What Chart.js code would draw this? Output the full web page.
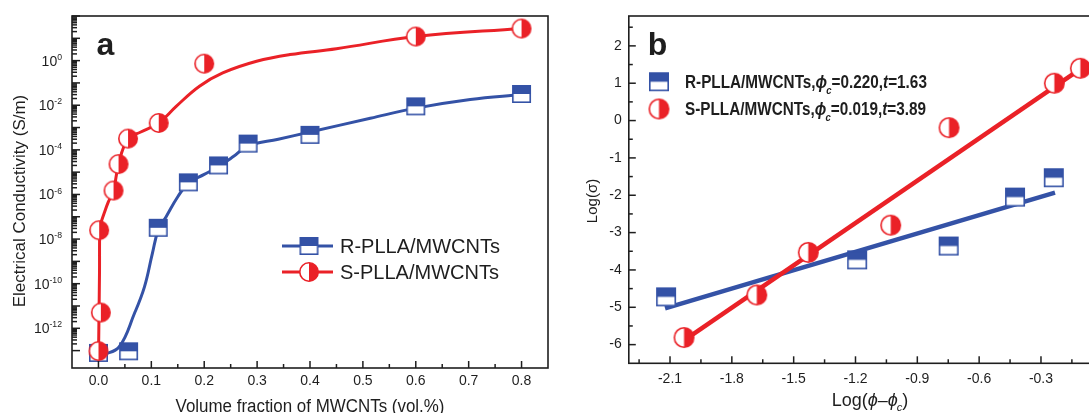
<!DOCTYPE html>
<html><head><meta charset="utf-8">
<script src="https://cdn.jsdelivr.net/npm/chart.js@4/dist/chart.umd.min.js"></script>
<style>
html,body{margin:0;padding:0;background:#fff;overflow:hidden;width:1089px;height:413px;}
#wrapA{position:absolute;left:0;top:0;width:560px;height:413px;}
#wrapB{position:absolute;left:560px;top:0;width:560px;height:413px;}
canvas{display:block;}
</style></head><body>
<div id="wrapA"><canvas id="chartA" width="560" height="413"></canvas></div>
<div id="wrapB"><canvas id="chartB" width="560" height="413"></canvas></div>
<script>
// ---------------- Panel (a) data ----------------
const volR = [0.0, 0.057, 0.113, 0.17, 0.227, 0.283, 0.4, 0.6, 0.8];
const sigR = [7.9e-14, 9.3e-14, 3.2e-8, 3.5e-6, 2.0e-5, 1.9e-4, 4.7e-4, 8.9e-3, 3.2e-2];
const volS = [0.0, 0.0045, 0.0013, 0.0285, 0.038, 0.056, 0.114, 0.2, 0.6, 0.8];
const sigS = [9.5e-14, 5.1e-12, 2.5e-8, 1.5e-6, 2.3e-5, 3.2e-4, 1.6e-3, 0.73, 12, 27.5];
const fitVolR = [0.008, 0.039, 0.068, 0.087, 0.102, 0.113, 0.128, 0.150, 0.170, 0.200, 0.227, 0.255, 0.283, 0.340, 0.400, 0.514, 0.600, 0.703, 0.800];
const fitSigR = [6.3e-14, 1.45e-13, 4.6e-12, 7.2e-11, 2.3e-9, 2.5e-8, 1.0e-7, 7.9e-7, 3.2e-6, 7.9e-6, 1.8e-5, 5.0e-5, 1.5e-4, 3.0e-4, 6.3e-4, 2.6e-3, 7.4e-3, 1.8e-2, 3.0e-2];
const fitVolS = [0.0, 0.001, 0.002, 0.0025, 0.0045, 0.010, 0.0185, 0.0285, 0.038, 0.056, 0.080, 0.114, 0.147, 0.191, 0.235, 0.299, 0.362, 0.45, 0.60, 0.80];
const fitSigS = [3.16e-14, 3.16e-12, 3.16e-10, 2.5e-8, 5.0e-8, 1.26e-7, 4.5e-7, 1.48e-6, 2.3e-5, 3.2e-4, 6.3e-4, 1.6e-3, 8.9e-3, 7.1e-2, 0.28, 0.93, 1.86, 3.4, 12, 27.5];
const xTicksA = [0.0, 0.1, 0.2, 0.3, 0.4, 0.5, 0.6, 0.7, 0.8];
const xMinorA = [0.05, 0.15, 0.25, 0.35, 0.45, 0.55, 0.65, 0.75];
const yDecadesA = [-13, -12, -11, -10, -9, -8, -7, -6, -5, -4, -3, -2, -1, 0, 1];
const yLabelExpA = [0, -2, -4, -6, -8, -10, -12];
const seriesNames = ['R-PLLA/MWCNTs', 'S-PLLA/MWCNTs'];

// ---------------- Panel (b) data ----------------
const logPhiR = [-2.119, -1.192, -0.748, -0.426, -0.238];
const logSigR = [-4.72, -3.73, -3.36, -2.05, -1.53];
const logPhiS = [-2.032, -1.679, -1.429, -1.029, -0.746, -0.235, -0.109];
const logSigS = [-5.81, -4.67, -3.53, -2.80, -0.19, 1.00, 1.40];
const fitPhiR = [-2.124, -0.232];
const fitLogR = [-5.03, -1.93];
const fitPhiS = [-2.03, -0.067];
const fitLogS = [-5.88, 1.54];
const phiC = ['0.220', '0.019'];
const tExp = ['1.63', '3.89'];
const xTicksB = [-2.1, -1.8, -1.5, -1.2, -0.9, -0.6, -0.3];
const xMinorB = [-2.25, -1.95, -1.65, -1.35, -1.05, -0.75, -0.45, -0.15];
const yTicksB = [-6, -5, -4, -3, -2, -1, 0, 1, 2];
const yMinorB = [-5.5, -4.5, -3.5, -2.5, -1.5, -0.5, 0.5, 1.5, 2.5];

// ---------------- style ----------------
const FONT = 'Arial, "Liberation Sans", Helvetica, sans-serif';
const BLUE = 'rgb(52,82,166)';
const RED = 'rgb(234,33,39)';
const INK = '#1e1e1e';
Chart.defaults.font.family = FONT;
Chart.defaults.color = INK;
Chart.defaults.animation = false;

function zip(xs, ys) { return xs.map((x, i) => ({ x: x, y: ys[i] })); }

function squareMarker(w, h, color, lw) {
  const c = document.createElement('canvas');
  c.width = w + 2; c.height = h + 2;
  const g = c.getContext('2d');
  g.fillStyle = '#fff'; g.fillRect(1, 1, w, h);
  g.fillStyle = color; g.fillRect(1, 1, w, h / 2);
  g.strokeStyle = color; g.lineWidth = lw;
  g.strokeRect(1 + lw / 2, 1 + lw / 2, w - lw, h - lw);
  return c;
}
function circleMarker(d, color, lw) {
  const c = document.createElement('canvas');
  c.width = d + 2; c.height = d + 2;
  const g = c.getContext('2d');
  const cx = (d + 2) / 2, r = d / 2 - lw / 2;
  g.fillStyle = '#fff'; g.beginPath(); g.arc(cx, cx, r, 0, Math.PI * 2); g.fill();
  g.fillStyle = color; g.beginPath(); g.moveTo(cx, cx - r); g.arc(cx, cx, r, -Math.PI / 2, Math.PI / 2); g.closePath(); g.fill();
  g.strokeStyle = color; g.lineWidth = lw; g.beginPath(); g.arc(cx, cx, r, 0, Math.PI * 2); g.stroke();
  return c;
}

function drawRuns(ctx, runs, x, y, size, align, base) {
  const parts = runs.map(r => {
    const s = (r.sub || r.sup) ? size * 0.62 : size;
    const f = (r.it ? 'italic ' : '') + (base || '') + ' ' + s + 'px ' + FONT;
    ctx.font = f;
    return { r: r, f: f, w: ctx.measureText(r.t).width + (r.kern || 0), dy: r.sub ? size * 0.3 : (r.sup ? -size * 0.42 : 0) };
  });
  const total = parts.reduce((a, p) => a + p.w, 0);
  let cx = align === 'center' ? x - total / 2 : (align === 'right' ? x - total : x);
  ctx.textAlign = 'left'; ctx.textBaseline = 'alphabetic';
  parts.forEach(p => { ctx.font = p.f; ctx.fillText(p.r.t, cx, y + p.dy); cx += p.w; });
  return total;
}

function decoPlugin(cfg) {
  return {
    id: 'deco' + cfg.name,
    afterDatasetsDraw(chart) {
      const ctx = chart.ctx, a = chart.chartArea, xs = chart.scales.x, ys = chart.scales.y;
      ctx.save();
      ctx.strokeStyle = INK; ctx.lineWidth = 1.5; ctx.lineCap = 'butt';
      const tick = (x1, y1, x2, y2) => { ctx.beginPath(); ctx.moveTo(x1, y1); ctx.lineTo(x2, y2); ctx.stroke(); };
      cfg.xMajor.forEach(v => { const p = xs.getPixelForValue(v); tick(p, a.bottom, p, a.bottom - cfg.major); });
      cfg.xMinor.forEach(v => { const p = xs.getPixelForValue(v); tick(p, a.bottom, p, a.bottom - cfg.minor); });
      cfg.yMajor.forEach(v => { const p = ys.getPixelForValue(v); if (p >= a.top && p <= a.bottom) tick(a.left, p, a.left + cfg.yMajorLen, p); });
      cfg.yMinor.forEach(v => { const p = ys.getPixelForValue(v); if (p >= a.top && p <= a.bottom) tick(a.left, p, a.left + cfg.yMinorLen, p); });
      ctx.lineWidth = 1.6;
      ctx.strokeRect(a.left, a.top, a.right - a.left, a.bottom - a.top);
      ctx.restore();
    },
    afterDraw(chart) {
      const ctx = chart.ctx;
      ctx.save();
      ctx.fillStyle = INK;
      cfg.text(ctx, chart);
      ctx.restore();
    }
  };
}

// ---------------- Chart (a) ----------------
const sqA = squareMarker(19, 18, BLUE, 1.6);
const ciA = circleMarker(20, RED, 1.6);
const yMinorA = [];
yDecadesA.forEach(e => { for (let m = 2; m <= 9; m++) yMinorA.push(m * Math.pow(10, e)); });

new Chart(document.getElementById('chartA'), {
  type: 'scatter',
  data: {
    datasets: [
      { label: seriesNames[1], data: zip(volS, sigS), pointStyle: ciA, pointRadius: 10, borderColor: RED, backgroundColor: RED, order: 0 },
      { label: seriesNames[0], data: zip(volR, sigR), pointStyle: sqA, pointRadius: 10, borderColor: BLUE, backgroundColor: BLUE, order: 0 },
      { label: 'fitS', data: zip(fitVolS, fitSigS), showLine: true, borderColor: RED, borderWidth: 3, pointRadius: 0, tension: 0.4, order: 1 },
      { label: 'fitR', data: zip(fitVolR, fitSigR), showLine: true, borderColor: BLUE, borderWidth: 3, pointRadius: 0, tension: 0.4, order: 1 }
    ]
  },
  options: {
    responsive: false, animation: false, events: [],
    layout: { padding: { left: 0, top: 16, right: 12, bottom: 0 } },
    plugins: { legend: { display: false }, tooltip: { enabled: false } },
    scales: {
      x: {
        type: 'linear', min: -0.05, max: 0.85,
        grid: { display: false, drawTicks: false }, border: { display: false },
        afterBuildTicks: s => { s.ticks = xTicksA.map(v => ({ value: v })); },
        ticks: { padding: 5, font: { size: 14 }, color: INK, maxRotation: 0, autoSkip: false, callback: v => Number(v).toFixed(1) },
        afterFit: s => { s.height = 45; }
      },
      y: {
        type: 'logarithmic', min: 1.66e-14, max: 100,
        grid: { display: false, drawTicks: false }, border: { display: false },
        ticks: { display: false },
        afterFit: s => { s.width = 72; }
      }
    }
  },
  plugins: [decoPlugin({
    name: 'A', major: 7, minor: 4, yMajorLen: 8, yMinorLen: 5,
    xMajor: xTicksA, xMinor: xMinorA,
    yMajor: yDecadesA.map(e => Math.pow(10, e)).concat([100]), yMinor: yMinorA,
    text(ctx, chart) {
      const a = chart.chartArea, ys = chart.scales.y;
      // y tick labels with superscript exponents
      yLabelExpA.forEach(e => {
        const p = ys.getPixelForValue(Math.pow(10, e));
        drawRuns(ctx, [{ t: '10' }, { t: String(e), sup: true }], a.left - 10, p + 5, 14, 'right', '');
      });
      // panel letter
      ctx.font = 'bold 32px ' + FONT; ctx.textAlign = 'left'; ctx.textBaseline = 'alphabetic';
      ctx.fillText('a', 96.5, 55);
      // axis titles
      ctx.save(); ctx.translate((a.left + a.right) / 2, 411.5); ctx.scale(0.94, 1);
      ctx.font = '18px ' + FONT; ctx.textAlign = 'center';
      ctx.fillText('Volume fraction of MWCNTs (vol.%)', 0, 0); ctx.restore();
      ctx.save(); ctx.translate(24.5, 201); ctx.rotate(-Math.PI / 2);
      ctx.font = '17px ' + FONT; ctx.textAlign = 'center';
      ctx.fillText('Electrical Conductivity (S/m)', 0, 0); ctx.restore();
      // legend
      const ds = chart.data.datasets;
      const rows = [{ d: ds[1], y: 246 }, { d: ds[0], y: 272 }];
      rows.forEach(r => {
        ctx.strokeStyle = r.d.borderColor; ctx.lineWidth = 3;
        ctx.beginPath(); ctx.moveTo(282, r.y); ctx.lineTo(333, r.y); ctx.stroke();
        const img = r.d.pointStyle;
        ctx.drawImage(img, 309 - img.width / 2, r.y - img.height / 2);
        ctx.fillStyle = INK; ctx.font = '20px ' + FONT; ctx.textAlign = 'left';
        ctx.fillText(r.d.label, 340, r.y + 7.2);
      });
    }
  })]
});

// ---------------- Chart (b) ----------------
const sqB = squareMarker(20, 19, BLUE, 1.6);
const ciB = circleMarker(21, RED, 1.6);

new Chart(document.getElementById('chartB'), {
  type: 'scatter',
  data: {
    datasets: [
      { label: seriesNames[1], data: zip(logPhiS, logSigS), pointStyle: ciB, pointRadius: 10, borderColor: RED, backgroundColor: RED, order: 0 },
      { label: seriesNames[0], data: zip(logPhiR, logSigR), pointStyle: sqB, pointRadius: 10, borderColor: BLUE, backgroundColor: BLUE, order: 0 },
      { label: 'fitS', data: zip(fitPhiS, fitLogS), showLine: true, borderColor: RED, borderWidth: 4.5, pointRadius: 0, order: 1 },
      { label: 'fitR', data: zip(fitPhiR, fitLogR), showLine: true, borderColor: BLUE, borderWidth: 4.5, pointRadius: 0, order: 1 }
    ]
  },
  options: {
    responsive: false, animation: false, events: [],
    layout: { padding: { left: 0, top: 16, right: 17.2, bottom: 0 } },
    plugins: { legend: { display: false }, tooltip: { enabled: false } },
    scales: {
      x: {
        type: 'linear', min: -2.3, max: 0,
        grid: { display: false, drawTicks: false }, border: { display: false },
        afterBuildTicks: s => { s.ticks = xTicksB.map(v => ({ value: v })); },
        ticks: { padding: 7, font: { size: 14 }, color: INK, maxRotation: 0, autoSkip: false, callback: v => Number(v).toFixed(1) },
        afterFit: s => { s.height = 49.7; }
      },
      y: {
        type: 'linear', min: -6.5, max: 2.8,
        grid: { display: false, drawTicks: false }, border: { display: false },
        afterBuildTicks: s => { s.ticks = yTicksB.map(v => ({ value: v })); },
        ticks: { padding: 7, font: { size: 14 }, color: INK, autoSkip: false, callback: v => String(v) },
        afterFit: s => { s.width = 68.8; }
      }
    }
  },
  plugins: [decoPlugin({
    name: 'B', major: 7, minor: 4, yMajorLen: 7, yMinorLen: 4,
    xMajor: xTicksB, xMinor: xMinorB, yMajor: yTicksB, yMinor: yMinorB,
    text(ctx, chart) {
      ctx.font = 'bold 32px ' + FONT; ctx.textAlign = 'left'; ctx.textBaseline = 'alphabetic';
      ctx.fillText('b', 87.7, 55);
      // axis titles
      drawRuns(ctx, [{ t: 'Log(' }, { t: 'ϕ', it: true }, { t: '–' }, { t: 'ϕ', it: true, kern: -1 }, { t: 'c', it: true, sub: true }, { t: ')' }], 310, 406, 18, 'center', '');
      ctx.save(); ctx.translate(37, 201); ctx.rotate(-Math.PI / 2);
      drawRuns(ctx, [{ t: 'Log(σ)' }], 0, 0, 15, 'center', '');
      ctx.restore();
      // legend
      const ds = chart.data.datasets;
      const rows = [{ d: ds[1], y: 81.7, i: 0 }, { d: ds[0], y: 109, i: 1 }];
      rows.forEach(r => {
        const img = r.d.pointStyle;
        ctx.drawImage(img, 99 - img.width / 2, r.y - img.height / 2);
        ctx.save(); ctx.translate(125, r.y + 6.4); ctx.scale(0.85, 1);
        ctx.fillStyle = INK;
        drawRuns(ctx, [
          { t: r.d.label + ',' }, { t: 'ϕ', it: true, kern: -1 }, { t: 'c', it: true, sub: true },
          { t: '=' + phiC[r.i] + ',' }, { t: 't', it: true }, { t: '=' + tExp[r.i] }
        ], 0, 0, 18, 'left', 'bold');
        ctx.restore();
      });
    }
  })]
});
</script>
</body></html>
